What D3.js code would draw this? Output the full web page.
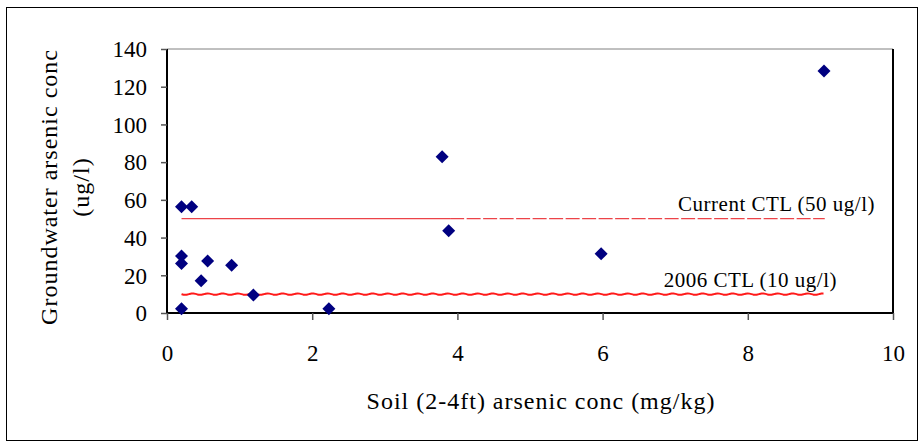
<!DOCTYPE html>
<html><head><meta charset="utf-8">
<script src="https://cdn.jsdelivr.net/npm/d3@7"></script>
<style>body{margin:0;background:#fff}svg{display:block}text{font-family:"Liberation Serif","Times New Roman",serif;fill:#000}</style>
</head><body><svg id="c" width="919" height="444"></svg>
<script>
const soil = [0.2, 0.34, 0.2, 0.2, 0.56, 0.47, 0.89, 1.19, 0.2, 2.23, 3.79, 3.88, 5.98, 9.05];
const groundwater = [56.4, 56.4, 30.2, 26.3, 27.6, 17.1, 25.3, 9.5, 2.3, 2.3, 82.9, 43.6, 31.4, 128.3];
const xTicks = [0, 2, 4, 6, 8, 10];
const yTicks = [0, 20, 40, 60, 80, 100, 120, 140];
const limits = [
  {label: "Current CTL (50 ug/l)", value: 50, from: 0.2, to: 9.06},
  {label: "2006 CTL (10 ug/l)", value: 10, from: 0.2, to: 9.06}
];
const xTitle = "Soil (2-4ft) arsenic conc (mg/kg)";
const yTitle = ["Groundwater arsenic conc", "(ug/l)"];

const svg = d3.select("#c");
const L = 167, R = 893, T = 49, B = 313;
const x = d3.scaleLinear().domain([0, 10]).range([L, R]);
const y = d3.scaleLinear().domain([0, 140]).range([B, T]);

// outer frame
svg.append("rect").attr("x", 6.5).attr("y", 7.5).attr("width", 911).attr("height", 433)
  .attr("fill", "#fff").attr("stroke", "#000").attr("stroke-width", 1);

// plot box top/right
svg.append("line").attr("x1", L).attr("x2", R).attr("y1", T).attr("y2", T).attr("stroke", "#808080").attr("stroke-width", 1);
svg.append("line").attr("x1", R).attr("x2", R).attr("y1", T).attr("y2", B).attr("stroke", "#000").attr("stroke-width", 2);

// axes
const yAxis = svg.append("g").attr("transform", `translate(${L},0)`)
  .call(d3.axisLeft(y).tickValues(yTicks).tickSize(6).tickPadding(14).tickFormat(d3.format("d")));
const xAxis = svg.append("g").attr("transform", `translate(0,${B})`)
  .call(d3.axisBottom(x).tickValues(xTicks).tickSize(7).tickPadding(25).tickFormat(d3.format("d")));
[xAxis, yAxis].forEach(g => {
  g.select(".domain").attr("stroke", "#000").attr("stroke-width", 2);
  g.selectAll(".tick line").attr("stroke", "#555").attr("stroke-width", 1.5);
  g.selectAll(".tick text").attr("font-size", 23).attr("font-family", "Liberation Serif").attr("fill", "#000");
});
yAxis.selectAll(".tick text").attr("dy", "0.34em");
xAxis.selectAll(".tick text").attr("dy", "0.7em");
yAxis.select(".domain").attr("d", `M0,${B}V${T}`);
xAxis.select(".domain").attr("d", `M${L},0H${R}`);

// 50 ug/l line: solid then dashed
const l50 = limits[0];
svg.append("line").attr("x1", x(l50.from)).attr("x2", x(3.9)).attr("y1", y(l50.value)).attr("y2", y(l50.value))
  .attr("stroke", "#e8141a").attr("stroke-width", 1);
svg.append("line").attr("x1", x(3.9)).attr("x2", x(l50.to)).attr("y1", y(l50.value)).attr("y2", y(l50.value))
  .attr("stroke", "#e8141a").attr("stroke-width", 1).attr("stroke-dasharray", "14,2.5");

// 10 ug/l line: wavy styling
const l10 = limits[1];
const x0 = x(l10.from), x1 = x(l10.to), yy = y(l10.value);
const pts = d3.range(x0, x1 + 0.01, 2).map(px => [px, yy + 0.8 * Math.sin((px - x0) / 15 * 2 * Math.PI)]);
svg.append("path").attr("d", d3.line().curve(d3.curveBasis)(pts))
  .attr("fill", "none").attr("stroke", "#ff1a1a").attr("stroke-width", 2);

// labels for limits
svg.append("text").attr("x", 875).attr("y", 211).attr("text-anchor", "end").attr("font-size", 21)
  .attr("letter-spacing", 0.5).text(l50.label);
svg.append("text").attr("x", 837).attr("y", 287).attr("text-anchor", "end").attr("font-size", 21)
  .attr("letter-spacing", 0.5).text(l10.label);

// points
svg.append("g").selectAll("path").data(soil.map((s, i) => [s, groundwater[i]])).join("path")
  .attr("transform", d => `translate(${x(d[0])},${y(d[1])})`)
  .attr("d", "M0,-6.5L6.5,0L0,6.5L-6.5,0Z").attr("fill", "#000080");

// titles
svg.append("text").attr("x", 541).attr("y", 409).attr("text-anchor", "middle").attr("font-size", 24)
  .attr("letter-spacing", 1).text(xTitle);
yTitle.forEach((t, i) => {
  svg.append("text").attr("transform", `translate(${57 + i * 32},187) rotate(-90)`)
    .attr("text-anchor", "middle").attr("font-size", 24).attr("letter-spacing", 1).text(t);
});
</script></body></html>
